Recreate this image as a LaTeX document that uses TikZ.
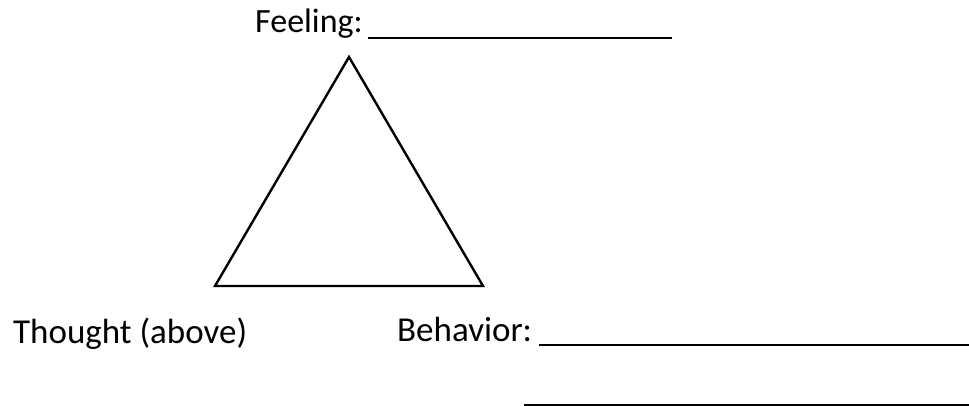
\documentclass[tikz,border=0pt]{standalone}
\usepackage{fontspec}
\setmainfont{Carlito}
\usetikzlibrary{positioning}

\begin{document}
\begin{tikzpicture}[
  x=1pt, y=-1pt,
  lbl/.style={anchor=base west, inner sep=0pt, font=\fontsize{35}{42}\selectfont},
  blank/.style={line width=1.8pt},
  tri/.style={line width=2.4pt, line join=miter}
]
\useasboundingbox (0,0) rectangle (969,406);
% the triangle
\coordinate (feel) at (349,57);
\coordinate (thought) at (215,286);
\coordinate (behav) at (483,286);
\draw[tri] (feel) -- (thought) -- (behav) -- cycle;

% labels with their blanks
\node[lbl, font=\fontsize{34}{40}\selectfont] (feeling) at (255,33) {Feeling:};
\coordinate (fa) at (368,38);
\coordinate (fb) at (672,38);
\draw[blank] (fa) -- (fb);

\node[lbl] (thinking) at (13,343) {Thought (above)};

\node[lbl] (behavior) at (397,341) {Behavior:};
\coordinate (ba) at (539,345);
\coordinate (bb) at (969,345);
\draw[blank] (ba) -- (bb);

\coordinate (ca) at (524,405);
\coordinate (cb) at (969,405);
\draw[blank] (ca) -- (cb);
\end{tikzpicture}
\end{document}
